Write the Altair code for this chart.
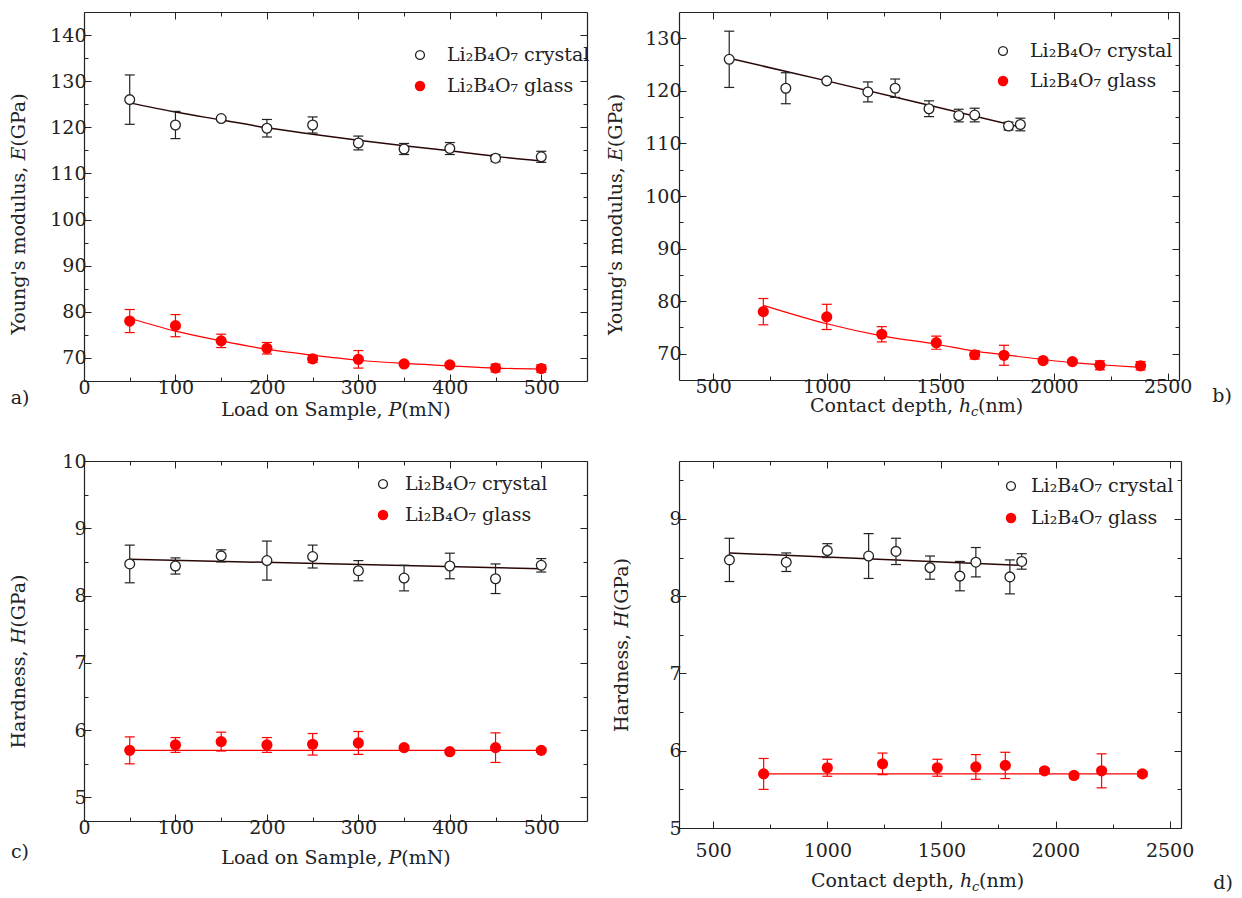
import altair as alt
import pandas as pd

FONT = "DejaVu Serif"
INK = "#222222"
RED = "#ff0000"
DARK = "#2a0606"
FS = 19

# ---------------- data ----------------
load = [50, 100, 150, 200, 250, 300, 350, 400, 450, 500]
hc_cry = [571, 820, 1000, 1181, 1301, 1450, 1581, 1651, 1800, 1852]
hc_gla = [721, 1000, 1242, 1482, 1651, 1780, 1952, 2081, 2202, 2381]

E_cry = [126.0, 120.5, 121.9, 119.8, 120.5, 116.6, 115.3, 115.4, 113.3, 113.6]
E_cry_err = [5.35, 2.95, 0.3, 1.9, 1.75, 1.5, 1.2, 1.3, 0.75, 1.2]
E_gla = [78.0, 77.0, 73.7, 72.1, 69.8, 69.7, 68.7, 68.5, 67.8, 67.7]
E_gla_err = [2.5, 2.4, 1.45, 1.25, 0.8, 1.9, 0.35, 0.35, 0.85, 0.8]

H_cry = [8.47, 8.44, 8.59, 8.52, 8.58, 8.37, 8.26, 8.44, 8.25, 8.45]
H_cry_err = [0.28, 0.12, 0.09, 0.29, 0.17, 0.15, 0.19, 0.19, 0.22, 0.10]
H_gla = [5.70, 5.78, 5.83, 5.78, 5.79, 5.81, 5.74, 5.68, 5.74, 5.70]
H_gla_err = [0.20, 0.11, 0.14, 0.11, 0.16, 0.17, 0.03, 0.03, 0.22, 0.03]

# fitted curves
fitA_cry_x = [50, 100, 150, 200, 250, 300, 350, 400, 450, 500]
fitA_cry_y = [125.3, 123.3, 121.6, 119.9, 118.5, 117.2, 116.0, 114.9, 113.7, 112.7]
fitA_gla_x = [50, 100, 150, 200, 250, 300, 350, 400, 450, 500]
fitA_gla_y = [78.6, 75.8, 73.7, 71.9, 70.6, 69.5, 68.8, 68.3, 67.8, 67.6]
fitB_cry_x = [571, 1000, 1400, 1852]
fitB_cry_y = [126.2, 121.9, 117.8, 113.1]
fitB_gla_x = [721, 1000, 1242, 1482, 1651, 1780, 1952, 2081, 2202, 2381]
fitB_gla_y = [79.2, 75.7, 73.4, 71.8, 70.5, 69.8, 68.9, 68.3, 67.9, 67.4]
fitC_cry_x = [50, 500]
fitC_cry_y = [8.54, 8.40]
fitC_gla_x = [50, 500]
fitC_gla_y = [5.70, 5.70]
fitD_cry_x = [571, 1852]
fitD_cry_y = [8.56, 8.40]
fitD_gla_x = [721, 2381]
fitD_gla_y = [5.70, 5.70]

LEG_CRY = "Li\u2082B\u2084O\u2087 crystal"
LEG_GLA = "Li\u2082B\u2084O\u2087 glass"
T_LOAD = "Load on Sample, \U0001D443(mN)"
T_E = "Young's modulus, \U0001D438(GPa)"
T_H = "Hardness, \U0001D43B(GPa)"
T_HC = ["Contact depth,", "h", "c", "(nm)"]


def pts(x, y, e):
    return pd.DataFrame({"x": x, "y": y, "lo": [a - b for a, b in zip(y, e)],
                         "hi": [a + b for a, b in zip(y, e)]})


def caps(x, y, e):
    lo = [a - b for a, b in zip(y, e)]
    hi = [a + b for a, b in zip(y, e)]
    return pd.DataFrame({"x": list(x) + list(x), "y": lo + hi})


def axis(orient, values, size, labels=False, title=None, tx=None, ty=None,
         lpad=3, fmt="d", domain=False):
    kw = dict(orient=orient, values=values, tickSize={"expr": str(-size)},
              tickColor=INK, tickWidth=1, domain=domain, grid=False,
              labels=labels)
    if domain:
        kw.update(domainColor=INK, domainWidth=1.2)
    if labels:
        kw.update(labelFont=FONT, labelFontSize=FS, labelColor=INK,
                  labelPadding=lpad, format=fmt, labelFlush=False,
                  labelOverlap=False)
    if title:
        kw.update(title=title, titleFont=FONT, titleFontSize=FS,
                  titleFontWeight="normal", titleColor=INK,
                  titleBaseline="middle", titleAlign="center",
                  titleX=tx, titleY=ty)
    else:
        kw["title"] = None
    return alt.Axis(**kw)


def txt(one, x, y, s, size=FS, align="left", style="normal", base="middle"):
    return alt.Chart(one).mark_text(font=FONT, fontSize=size, color=INK,
                                    align=align, baseline=base,
                                    fontStyle=style).encode(
        x=alt.value(x), y=alt.value(y), text=alt.value(s))


def panel(w, h, xdom, ydom, xmaj, xmin, ymaj, ymin, xtitle, ytitle,
          ytx, yty, xty, cry, gla, fcx, fcy, fgx, fgy, leg, letter, letpos,
          xlpad=4, ylpad=5, hc_x0=None):
    xs = alt.Scale(domain=xdom, nice=False, zero=False)
    ys = alt.Scale(domain=ydom, nice=False, zero=False)
    one = pd.DataFrame({"k": [0]})

    def X(field, ax=None):
        return alt.X(field, type="quantitative", scale=xs, axis=ax)

    def Y(field, ax=None):
        return alt.Y(field, type="quantitative", scale=ys, axis=ax)

    xt = None if hc_x0 is not None else xtitle
    fit_g = alt.Chart(pd.DataFrame({"x": fgx, "y": fgy})).mark_line(
        color=RED, strokeWidth=1.2, interpolate="monotone").encode(
        x=X("x", axis("bottom", xmaj, 7, True, xt, w / 2, xty, xlpad, domain=True)),
        y=Y("y", axis("left", ymaj, 7, True, ytitle, ytx, h / 2 + yty, ylpad,
                      domain=True)))
    fit_c = alt.Chart(pd.DataFrame({"x": fcx, "y": fcy})).mark_line(
        color=DARK, strokeWidth=1.5, interpolate="monotone").encode(
        x=X("x", axis("top", xmaj, 7, domain=True)),
        y=Y("y", axis("right", ymaj, 7, domain=True)))
    err_g = alt.Chart(gla).mark_rule(color=RED, strokeWidth=1.2).encode(
        x=X("x", axis("bottom", xmin, 4)),
        y=Y("lo", axis("left", ymin, 4)), y2="hi")
    err_c = alt.Chart(cry).mark_rule(color=INK, strokeWidth=1.2).encode(
        x=X("x", axis("top", xmin, 4)),
        y=Y("lo", axis("right", ymin, 4)), y2="hi")
    cap_g = alt.Chart(caps(gla.x, gla.y, gla.hi - gla.y)).mark_tick(
        orient="horizontal", size=10, thickness=1.2, color=RED, opacity=1).encode(
        x=X("x"), y=Y("y"))
    cap_c = alt.Chart(caps(cry.x, cry.y, cry.hi - cry.y)).mark_tick(
        orient="horizontal", size=10, thickness=1.2, color=INK, opacity=1).encode(
        x=X("x"), y=Y("y"))
    pt_g = alt.Chart(gla).mark_circle(color=RED, size=125, opacity=1).encode(
        x=X("x"), y=Y("y"))
    pt_c = alt.Chart(cry).mark_point(shape="circle", filled=True, fill="white",
                                     stroke=INK, strokeWidth=1.3, size=95,
                                     opacity=1).encode(x=X("x"), y=Y("y"))

    (lx, ly1, ly2, tx) = leg
    leg_c = alt.Chart(one).mark_point(shape="circle", filled=True, fill="white",
                                      stroke=INK, strokeWidth=1.3, size=80,
                                      opacity=1).encode(
        x=alt.value(lx), y=alt.value(ly1))
    leg_g = alt.Chart(one).mark_circle(color=RED, size=110, opacity=1).encode(
        x=alt.value(lx), y=alt.value(ly2))
    layers = [fit_g, fit_c, err_g, err_c, cap_g, cap_c, pt_g, pt_c,
              leg_c, leg_g, txt(one, tx, ly1, LEG_CRY), txt(one, tx, ly2, LEG_GLA),
              txt(one, letpos[0], letpos[1], letter, align="center")]
    if hc_x0 is not None:
        ty = h + xty
        layers += [
            txt(one, hc_x0 - 6, ty, T_HC[0], align="right"),
            txt(one, hc_x0, ty, T_HC[1], style="italic"),
            txt(one, hc_x0 + 12, ty + 6, T_HC[2], size=13, style="italic"),
            txt(one, hc_x0 + 19, ty, T_HC[3]),
        ]
    return alt.layer(*layers).resolve_axis(
        x="independent", y="independent").properties(width=w, height=h)


pa = panel(503, 369, [0, 550], [65, 145],
           [0, 100, 200, 300, 400, 500], [50, 150, 250, 350, 450],
           [70, 80, 90, 100, 110, 120, 130, 140], [75, 85, 95, 105, 115, 125, 135],
           T_LOAD, T_E, -66, 17, 28,
           pts(load, E_cry, E_cry_err), pts(load, E_gla, E_gla_err),
           fitA_cry_x, fitA_cry_y, fitA_gla_x, fitA_gla_y,
           (336, 43, 74, 363), "a)", (-64, 386))

pb = panel(500, 368, [350, 2550], [65, 135],
           [500, 1000, 1500, 2000, 2500], [750, 1250, 1750, 2250],
           [70, 80, 90, 100, 110, 120, 130], [75, 85, 95, 105, 115, 125],
           None, T_E, -64, 18, 26,
           pts(hc_cry, E_cry, E_cry_err), pts(hc_gla, E_gla, E_gla_err),
           fitB_cry_x, fitB_cry_y, fitB_gla_x, fitB_gla_y,
           (324, 39, 69, 351), "b)", (543, 384), hc_x0=280)

pc = panel(503, 360, [0, 550], [4.65, 10],
           [0, 100, 200, 300, 400, 500], [50, 150, 250, 350, 450],
           [5, 6, 7, 8, 9, 10], [5.5, 6.5, 7.5, 8.5, 9.5],
           T_LOAD, T_H, -66, 20, 36,
           pts(load, H_cry, H_cry_err), pts(load, H_gla, H_gla_err),
           fitC_cry_x, fitC_cry_y, fitC_gla_x, fitC_gla_y,
           (299, 23, 54, 321), "c)", (-64, 391))

pd_ = panel(502, 367, [350, 2550], [5, 9.75],
            [500, 1000, 1500, 2000, 2500], [750, 1250, 1750, 2250],
            [5, 6, 7, 8, 9], [5.5, 6.5, 7.5, 8.5, 9.5],
            None, T_H, -58, 0, 53,
            pts(hc_cry, H_cry, H_cry_err), pts(hc_gla, H_gla, H_gla_err),
            fitD_cry_x, fitD_cry_y, fitD_gla_x, fitD_gla_y,
            (332, 25, 57, 352), "d)", (544, 422), xlpad=20, hc_x0=281)

chart = alt.concat(pa, pb, pc, pd_, columns=2,
                   spacing={"row": 80, "column": 92}, bounds="flush").properties(
    padding={"left": 0, "top": 3, "right": 0, "bottom": 0}
).configure_view(stroke=None).configure(background="white")

chart.save("out.html", embed_options={"renderer": "svg", "actions": False})
